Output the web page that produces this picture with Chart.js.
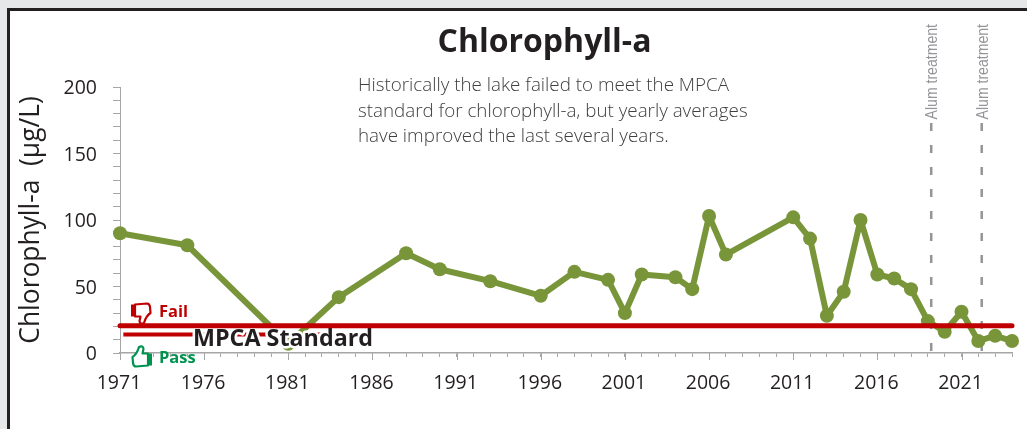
<!DOCTYPE html>
<html>
<head>
<meta charset="utf-8">
<title>Chlorophyll-a</title>
<script src="https://cdn.jsdelivr.net/npm/chart.js@4"></script>
<style>
    html, body { margin: 0; padding: 0; background: #e6e7e8; overflow: hidden; }
    #frame {
        position: absolute; left: 7px; top: 8px; width: 1030px; height: 430px;
        background: #fff; border-left: 3px solid #231f20; border-top: 3px solid #231f20;
    }
    #chlorophyll { position: absolute; left: 0; top: 0; }
</style>
</head>
<body>
<div id="frame"></div>
<canvas id="chlorophyll" width="1027" height="429"></canvas>
<script>
const years = [1971, 1975, 1981, 1984, 1988, 1990, 1993, 1996, 1998, 2000, 2001, 2002, 2004, 2005, 2006, 2007, 2011, 2012, 2013, 2014, 2015, 2016, 2017, 2018, 2019, 2020, 2021, 2022, 2023, 2024];
const chlorophyll = [90, 81, 7, 42, 75, 63, 54, 43, 61, 55, 30, 59, 57, 48, 103, 74, 102, 86, 28, 46, 100, 59, 56, 48, 24, 16, 31, 9, 13, 9];
const standardYears = [1971, 2024];
const standardValues = [20.5, 20.5];
const standardKeyYears = [1971.2, 1983];
const standardKeyValues = [14, 14];
const alumYears = [2019.2, 2022.2];
const alumRange = [0, 173];
const noteLines = [
    'Historically the lake failed to meet the MPCA',
    'standard for chlorophyll-a, but yearly averages',
    'have improved the last several years.'
];

const GREEN = '#78953a';
const RED = '#c00000';
const PASS_GREEN = '#00934f';
const GREY_TICK = '#a6a6a6';
const TEXT = '#231f20';

function toPoints(xs, ys) {
    return xs.map((x, i) => ({ x: x, y: ys[i] }));
}

function alumDataset(year) {
    return {
        data: toPoints([year, year], [alumRange[1], alumRange[0]]),
        borderColor: '#939598',
        borderWidth: 2.5,
        borderDash: [8, 14],
        pointRadius: 0,
        showLine: true,
        order: 3
    };
}

function drawThumb(ctx, x, y, color, flip) {
    ctx.save();
    ctx.translate(x, y);
    if (flip) {
        ctx.translate(22, 22);
        ctx.rotate(Math.PI);
    }
    ctx.strokeStyle = color;
    ctx.fillStyle = '#fff';
    ctx.lineWidth = 2.2;
    ctx.lineJoin = 'round';
    ctx.beginPath();
    ctx.moveTo(1.5, 12);
    ctx.quadraticCurveTo(6, 9, 8, 2);
    ctx.quadraticCurveTo(12, 0, 12.5, 4);
    ctx.lineTo(11.5, 8.5);
    ctx.lineTo(17, 8.5);
    ctx.lineTo(17, 20.5);
    ctx.lineTo(5, 21.5);
    ctx.quadraticCurveTo(2.5, 21.5, 2, 18);
    ctx.closePath();
    ctx.fill();
    ctx.stroke();
    ctx.fillStyle = color;
    ctx.fillRect(16, 8.5, 5, 12);
    ctx.restore();
}

// sits above the green line but below the red standard line
const standardLabelPlugin = {
    id: 'standardLabel',
    afterDatasetDraw(chart, args) {
        if (args.index !== 2) return;
        const ctx = chart.ctx;
        ctx.save();
        ctx.textBaseline = 'alphabetic';
        ctx.textAlign = 'left';
        ctx.font = 'bold 23.3px "Open Sans"';
        ctx.lineJoin = 'round';
        ctx.strokeStyle = '#fff';
        ctx.lineWidth = 5;
        ctx.strokeText('MPCA Standard', 193, 346);
        ctx.fillStyle = TEXT;
        ctx.fillText('MPCA Standard', 193, 346);
        ctx.restore();
    }
};

const annotationPlugin = {
    id: 'annotations',
    afterDatasetsDraw(chart) {
        const ctx = chart.ctx;
        const xs = chart.scales.x;
        const ys = chart.scales.y;

        // longer ticks on the labelled years
        ctx.save();
        ctx.strokeStyle = GREY_TICK;
        ctx.lineWidth = 1;
        for (let yr = 1971; yr <= 2024; yr += 5) {
            const px = Math.round(xs.getPixelForValue(yr)) + 0.5;
            ctx.beginPath();
            ctx.moveTo(px, ys.bottom);
            ctx.lineTo(px, ys.bottom + 7);
            ctx.stroke();
        }
        ctx.restore();

        ctx.save();
        ctx.textBaseline = 'middle';

        // title
        ctx.fillStyle = TEXT;
        ctx.textAlign = 'center';
        ctx.font = 'bold 32px "Open Sans"';
        ctx.fillText('Chlorophyll-a', 544.5, 43);

        // note
        ctx.textAlign = 'left';
        ctx.fillStyle = '#404040';
        ctx.font = '300 18.8px "Open Sans"';
        noteLines.forEach((line, i) => ctx.fillText(line, 358, 86 + i * 25.5));

        // alum labels, no narrow font installed so squeeze it
        ctx.fillStyle = '#939598';
        ctx.font = '16px "Liberation Sans"';
        alumYears.forEach(yr => {
            ctx.save();
            ctx.translate(xs.getPixelForValue(yr) + 1.5, 24);
            ctx.rotate(-Math.PI / 2);
            ctx.scale(0.88, 1);
            ctx.textAlign = 'right';
            ctx.fillText('Alum treatment', 0, 0);
            ctx.restore();
        });

        // pass / fail
        ctx.textAlign = 'left';
        drawThumb(ctx, 130, 303, RED, true);
        drawThumb(ctx, 131, 345, PASS_GREEN, false);
        ctx.font = 'bold 16.5px "Open Sans"';
        ctx.fillStyle = RED;
        ctx.fillText('Fail', 159, 312);
        ctx.fillStyle = PASS_GREEN;
        ctx.fillText('Pass', 159, 358);
        ctx.restore();
    }
};

new Chart(document.getElementById('chlorophyll'), {
    type: 'scatter',
    data: {
        datasets: [
            alumDataset(alumYears[0]),
            alumDataset(alumYears[1]),
            {
                data: toPoints(years, chlorophyll),
                borderColor: GREEN,
                backgroundColor: GREEN,
                borderWidth: 6,
                borderJoinStyle: 'round',
                pointRadius: 7,
                pointBorderWidth: 0,
                showLine: true,
                clip: false,
                order: 2
            },
            {
                data: toPoints(standardYears, standardValues),
                borderColor: RED,
                borderWidth: 5,
                borderCapStyle: 'round',
                pointRadius: 0,
                showLine: true,
                clip: false,
                order: 1
            },
            {
                data: toPoints(standardKeyYears, standardKeyValues),
                borderColor: RED,
                borderWidth: 4,
                pointRadius: 0,
                showLine: true,
                clip: false,
                order: 2.5
            }
        ]
    },
    options: {
        responsive: false,
        animation: false,
        events: [],
        layout: { padding: { top: 87, right: 15, bottom: 0, left: 0 } },
        plugins: { legend: { display: false }, tooltip: { enabled: false } },
        scales: {
            x: {
                type: 'linear',
                min: 1971,
                max: 2024,
                afterFit: scale => { scale.height = 76; },
                grid: { drawOnChartArea: false, color: GREY_TICK, tickLength: 4 },
                border: { color: GREY_TICK, width: 1.5 },
                ticks: {
                    stepSize: 1,
                    autoSkip: false,
                    maxRotation: 0,
                    padding: 15,
                    labelOffset: -1,
                    color: TEXT,
                    font: { family: 'Open Sans', size: 19.5 },
                    callback: v => ((v - 1971) % 5 === 0 ? String(v) : '')
                }
            },
            y: {
                min: 0,
                max: 200,
                afterFit: scale => { scale.width = 120; },
                grid: { drawOnChartArea: false, color: GREY_TICK, tickLength: 7 },
                border: { color: GREY_TICK, width: 1 },
                title: {
                    display: true,
                    text: 'Chlorophyll-a  (µg/L)',
                    color: TEXT,
                    font: { family: 'Open Sans', size: 26.4 },
                    padding: { top: 16, bottom: 0 }
                },
                ticks: {
                    stepSize: 10,
                    autoSkip: false,
                    padding: 16,
                    labelOffset: 1.5,
                    color: TEXT,
                    font: { family: 'Open Sans', size: 19.5 },
                    callback: v => (v % 50 === 0 ? String(v) : '')
                }
            }
        }
    },
    plugins: [standardLabelPlugin, annotationPlugin]
});
</script>
</body>
</html>
